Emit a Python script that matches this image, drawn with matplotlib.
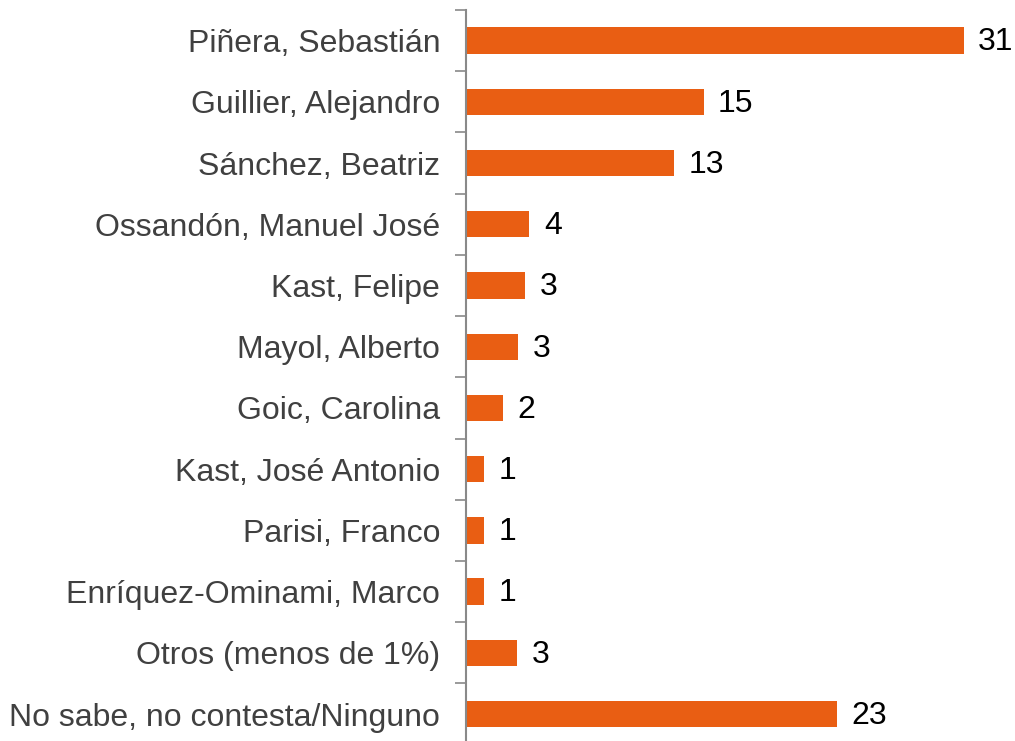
import matplotlib
matplotlib.use('Agg')
import matplotlib.pyplot as plt
import numpy as np

plt.rcParams['font.family'] = ['Liberation Sans', 'DejaVu Sans']

candidatos = ["Piñera, Sebastián", "Guillier, Alejandro", "Sánchez, Beatriz",
              "Ossandón, Manuel José", "Kast, Felipe", "Mayol, Alberto",
              "Goic, Carolina", "Kast, José Antonio", "Parisi, Franco",
              "Enríquez-Ominami, Marco", "Otros (menos de 1%)",
              "No sabe, no contesta/Ninguno"]
valores = [31.0, 14.8, 12.95, 3.95, 3.7, 3.25, 2.3, 1.15, 1.15, 1.15, 3.2, 23.1]
etiquetas = ["31", "15", "13", "4", "3", "3", "2", "1", "1", "1", "3", "23"]

fig = plt.figure(figsize=(10.15, 7.41), dpi=100)
ax = fig.add_axes([0.459, -0.005, 0.541, 0.9915])

y = np.arange(len(candidatos))
ax.barh(y, valores, height=0.43, color='#E95E13')
for yi, v, t in zip(y, valores, etiquetas):
    ax.text(v + 0.9, yi + 0.03, t, va='center', ha='left', fontsize=23, color='black')

ax.set_ylim(len(candidatos) - 0.5, -0.5)
ax.set_xlim(0, 34.2)
ax.set_yticks(y)
ax.set_yticklabels(candidatos, fontsize=23, color='#404040')
ax.tick_params(axis='y', which='major', length=0, pad=18.5)
ax.set_yticks(np.arange(-0.5, len(candidatos), 1), minor=True)
ax.tick_params(axis='y', which='minor', length=8, width=1.2, color='#898989')
ax.set_xticks([])

for s in ['top', 'right', 'bottom']:
    ax.spines[s].set_visible(False)
ax.spines['left'].set_color('#898989')
ax.spines['left'].set_linewidth(1.5)

plt.savefig('out.png', dpi=100)
